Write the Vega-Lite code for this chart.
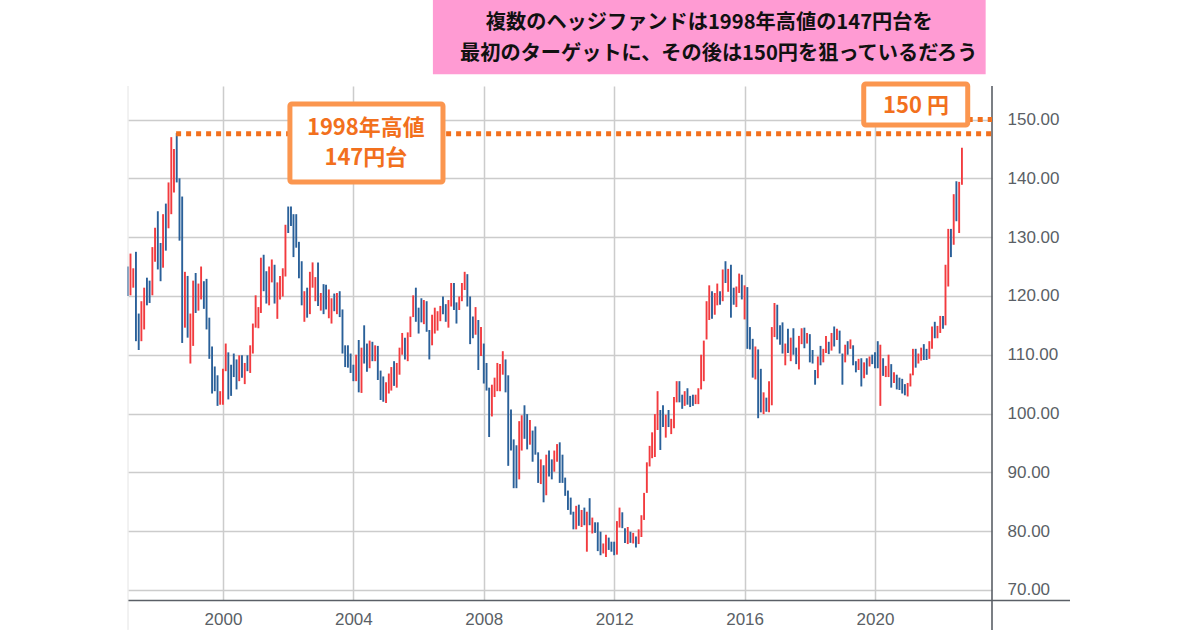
{"$schema":"https://vega.github.io/schema/vega-lite/v6.json","width":864,"height":514.5,"autosize":"none","padding":{"left":128,"top":86,"right":208,"bottom":29.5},"background":"white","view":{"stroke":null},
"config":{"axis":{"title":null,"grid":true,"gridColor":"#cccccc","gridWidth":1.5,"ticks":false,"domain":false,"labelColor":"#5a5f66","labelFont":"Liberation Sans","labelFontSize":17},"axisX":{"labelPadding":11},"axisY":{"labelPadding":15}},
"datasets":{
"bars":[
{"d":"1997-02-01","h":125,"l":120,"c":"down"},{"d":"1997-03-01","h":127.2,"l":120.1,"c":"up"},{"d":"1997-04-01","h":124.7,"l":121.4,"c":"up"},{"d":"1997-05-01","h":127.5,"l":112.3,"c":"down"},{"d":"1997-06-01","h":117,"l":110.8,"c":"down"},{"d":"1997-07-01","h":119.1,"l":112.3,"c":"up"},{"d":"1997-08-01","h":121.4,"l":114.3,"c":"up"},{"d":"1997-09-01","h":123.1,"l":118.4,"c":"down"},{"d":"1997-10-01","h":122.6,"l":118.8,"c":"down"},{"d":"1997-11-01","h":128.3,"l":120.1,"c":"up"},{"d":"1997-12-01","h":131.6,"l":125.8,"c":"up"},
{"d":"1998-01-01","h":134.4,"l":124.5,"c":"down"},{"d":"1998-02-01","h":129,"l":122.5,"c":"down"},{"d":"1998-03-01","h":133.9,"l":124.8,"c":"up"},{"d":"1998-04-01","h":135.7,"l":127.7,"c":"down"},{"d":"1998-05-01","h":139.3,"l":131.5,"c":"up"},{"d":"1998-06-01","h":147,"l":133.9,"c":"up"},{"d":"1998-07-01","h":145,"l":137.6,"c":"up"},{"d":"1998-08-01","h":147.7,"l":139.3,"c":"down"},{"d":"1998-09-01","h":140,"l":129.4,"c":"down"},{"d":"1998-10-01","h":136.9,"l":112,"c":"down"},{"d":"1998-11-01","h":124.1,"l":114.6,"c":"up"},{"d":"1998-12-01","h":123.4,"l":112.9,"c":"down"},
{"d":"1999-01-01","h":117,"l":108.5,"c":"up"},{"d":"1999-02-01","h":122.6,"l":111.5,"c":"up"},{"d":"1999-03-01","h":123.9,"l":117.1,"c":"down"},{"d":"1999-04-01","h":122.1,"l":117.5,"c":"up"},{"d":"1999-05-01","h":125,"l":119.4,"c":"up"},{"d":"1999-06-01","h":122.5,"l":117.8,"c":"down"},{"d":"1999-07-01","h":122.9,"l":114.3,"c":"down"},{"d":"1999-08-01","h":116.3,"l":109.3,"c":"down"},{"d":"1999-09-01","h":111.4,"l":103.4,"c":"down"},{"d":"1999-10-01","h":108,"l":103.8,"c":"down"},{"d":"1999-11-01","h":106.5,"l":101.3,"c":"down"},{"d":"1999-12-01","h":103.8,"l":101.5,"c":"up"},
{"d":"2000-01-01","h":107.6,"l":101.5,"c":"up"},{"d":"2000-02-01","h":111.9,"l":107.2,"c":"up"},{"d":"2000-03-01","h":110.4,"l":102.4,"c":"down"},{"d":"2000-04-01","h":108.3,"l":103,"c":"down"},{"d":"2000-05-01","h":110.2,"l":106.2,"c":"down"},{"d":"2000-06-01","h":109.2,"l":104.1,"c":"down"},{"d":"2000-07-01","h":109.9,"l":105.5,"c":"up"},{"d":"2000-08-01","h":109.9,"l":106.1,"c":"down"},{"d":"2000-09-01","h":108.6,"l":105,"c":"up"},{"d":"2000-10-01","h":109.9,"l":107.2,"c":"down"},{"d":"2000-11-01","h":111.6,"l":106.9,"c":"up"},{"d":"2000-12-01","h":115.3,"l":110.2,"c":"up"},
{"d":"2001-01-01","h":120.1,"l":114.6,"c":"up"},{"d":"2001-02-01","h":118.1,"l":114.5,"c":"up"},{"d":"2001-03-01","h":126.5,"l":117.1,"c":"up"},{"d":"2001-04-01","h":127,"l":120.8,"c":"down"},{"d":"2001-05-01","h":124.2,"l":118.7,"c":"down"},{"d":"2001-06-01","h":125,"l":118.4,"c":"up"},{"d":"2001-07-01","h":126.2,"l":122.3,"c":"up"},{"d":"2001-08-01","h":125.3,"l":118.7,"c":"down"},{"d":"2001-09-01","h":122.3,"l":116.1,"c":"up"},{"d":"2001-10-01","h":123.4,"l":119.4,"c":"up"},{"d":"2001-11-01","h":124.7,"l":119.9,"c":"up"},{"d":"2001-12-01","h":132.1,"l":123.3,"c":"up"},
{"d":"2002-01-01","h":135.2,"l":130.7,"c":"down"},{"d":"2002-02-01","h":135.2,"l":131.9,"c":"down"},{"d":"2002-03-01","h":133.9,"l":126.6,"c":"down"},{"d":"2002-04-01","h":133.9,"l":128.2,"c":"down"},{"d":"2002-05-01","h":129.2,"l":123,"c":"down"},{"d":"2002-06-01","h":125.9,"l":118.4,"c":"down"},{"d":"2002-07-01","h":120.8,"l":115.6,"c":"up"},{"d":"2002-08-01","h":121.4,"l":116.3,"c":"down"},{"d":"2002-09-01","h":124.1,"l":116.9,"c":"up"},{"d":"2002-10-01","h":125.7,"l":121.4,"c":"up"},{"d":"2002-11-01","h":123.2,"l":119.1,"c":"up"},{"d":"2002-12-01","h":125.7,"l":118.3,"c":"down"},
{"d":"2003-01-01","h":120.5,"l":117.5,"c":"up"},{"d":"2003-02-01","h":122,"l":116.9,"c":"down"},{"d":"2003-03-01","h":121.9,"l":117.7,"c":"down"},{"d":"2003-04-01","h":121.1,"l":116.2,"c":"up"},{"d":"2003-05-01","h":119.6,"l":115.3,"c":"up"},{"d":"2003-06-01","h":120.4,"l":117.4,"c":"down"},{"d":"2003-07-01","h":120.5,"l":116.9,"c":"up"},{"d":"2003-08-01","h":120.8,"l":116.4,"c":"down"},{"d":"2003-09-01","h":117.7,"l":110.2,"c":"down"},{"d":"2003-10-01","h":111.6,"l":107.9,"c":"down"},{"d":"2003-11-01","h":111.6,"l":107.8,"c":"down"},{"d":"2003-12-01","h":110.2,"l":106.9,"c":"down"},
{"d":"2004-01-01","h":108.3,"l":105.5,"c":"down"},{"d":"2004-02-01","h":110,"l":105.5,"c":"up"},{"d":"2004-03-01","h":112.5,"l":103.6,"c":"down"},{"d":"2004-04-01","h":111.2,"l":103.5,"c":"up"},{"d":"2004-05-01","h":115,"l":108.5,"c":"down"},{"d":"2004-06-01","h":111.9,"l":107.1,"c":"down"},{"d":"2004-07-01","h":112.4,"l":107.7,"c":"up"},{"d":"2004-08-01","h":112.2,"l":108.9,"c":"down"},{"d":"2004-09-01","h":111.6,"l":108.9,"c":"up"},{"d":"2004-10-01","h":111.5,"l":105.7,"c":"down"},{"d":"2004-11-01","h":107.3,"l":102.3,"c":"down"},{"d":"2004-12-01","h":106.3,"l":102,"c":"down"},
{"d":"2005-01-01","h":105.3,"l":101.8,"c":"up"},{"d":"2005-02-01","h":106.8,"l":103.4,"c":"up"},{"d":"2005-03-01","h":107.9,"l":103.9,"c":"up"},{"d":"2005-04-01","h":108.9,"l":104.7,"c":"down"},{"d":"2005-05-01","h":108.6,"l":104.4,"c":"up"},{"d":"2005-06-01","h":111.2,"l":106.6,"c":"up"},{"d":"2005-07-01","h":113.7,"l":110,"c":"up"},{"d":"2005-08-01","h":112.9,"l":109.2,"c":"down"},{"d":"2005-09-01","h":113.8,"l":108.9,"c":"up"},{"d":"2005-10-01","h":116.5,"l":113,"c":"up"},{"d":"2005-11-01","h":120.1,"l":116.4,"c":"up"},{"d":"2005-12-01","h":121.4,"l":115.6,"c":"down"},
{"d":"2006-01-01","h":118,"l":113.6,"c":"down"},{"d":"2006-02-01","h":119.6,"l":115.5,"c":"down"},{"d":"2006-03-01","h":119.3,"l":115.2,"c":"up"},{"d":"2006-04-01","h":119.1,"l":113.9,"c":"down"},{"d":"2006-05-01","h":114.2,"l":109.2,"c":"down"},{"d":"2006-06-01","h":116.8,"l":111.6,"c":"up"},{"d":"2006-07-01","h":118,"l":113.6,"c":"up"},{"d":"2006-08-01","h":117.4,"l":114.1,"c":"up"},{"d":"2006-09-01","h":118.3,"l":115.7,"c":"up"},{"d":"2006-10-01","h":119.9,"l":116.9,"c":"down"},{"d":"2006-11-01","h":118.6,"l":115.6,"c":"down"},{"d":"2006-12-01","h":119.3,"l":114.6,"c":"up"},
{"d":"2007-01-01","h":122.2,"l":118.2,"c":"up"},{"d":"2007-02-01","h":122.2,"l":117.6,"c":"down"},{"d":"2007-03-01","h":118.9,"l":115.3,"c":"down"},{"d":"2007-04-01","h":119.9,"l":117.6,"c":"up"},{"d":"2007-05-01","h":122.2,"l":119.1,"c":"up"},{"d":"2007-06-01","h":124.1,"l":121,"c":"up"},{"d":"2007-07-01","h":123.7,"l":118.2,"c":"down"},{"d":"2007-08-01","h":119.9,"l":111.8,"c":"down"},{"d":"2007-09-01","h":116.5,"l":112.8,"c":"down"},{"d":"2007-10-01","h":118.1,"l":113.4,"c":"up"},{"d":"2007-11-01","h":115.9,"l":107.4,"c":"down"},{"d":"2007-12-01","h":114.7,"l":109.8,"c":"up"},
{"d":"2008-01-01","h":111.9,"l":105.1,"c":"down"},{"d":"2008-02-01","h":108.6,"l":103.9,"c":"down"},{"d":"2008-03-01","h":104.4,"l":96,"c":"down"},{"d":"2008-04-01","h":104.9,"l":99.5,"c":"up"},{"d":"2008-05-01","h":106.1,"l":102.8,"c":"up"},{"d":"2008-06-01","h":108.6,"l":103.8,"c":"up"},{"d":"2008-07-01","h":108.4,"l":103.8,"c":"up"},{"d":"2008-08-01","h":110.6,"l":106.6,"c":"up"},{"d":"2008-09-01","h":109.2,"l":103.6,"c":"down"},{"d":"2008-10-01","h":106.5,"l":91.1,"c":"down"},{"d":"2008-11-01","h":100.7,"l":93.7,"c":"down"},{"d":"2008-12-01","h":95.6,"l":87.3,"c":"down"},
{"d":"2009-01-01","h":94.6,"l":87.3,"c":"down"},{"d":"2009-02-01","h":98.7,"l":88.8,"c":"up"},{"d":"2009-03-01","h":99.7,"l":93.7,"c":"up"},{"d":"2009-04-01","h":101.4,"l":95.7,"c":"down"},{"d":"2009-05-01","h":99.9,"l":93.9,"c":"down"},{"d":"2009-06-01","h":98.9,"l":94.7,"c":"up"},{"d":"2009-07-01","h":97.1,"l":91.8,"c":"down"},{"d":"2009-08-01","h":97.8,"l":93,"c":"down"},{"d":"2009-09-01","h":93.4,"l":88.2,"c":"down"},{"d":"2009-10-01","h":92.2,"l":88,"c":"up"},{"d":"2009-11-01","h":91.2,"l":84.9,"c":"down"},{"d":"2009-12-01","h":93,"l":86.1,"c":"up"},
{"d":"2010-01-01","h":93.7,"l":89.3,"c":"down"},{"d":"2010-02-01","h":92.2,"l":88.8,"c":"down"},{"d":"2010-03-01","h":93.7,"l":90.1,"c":"up"},{"d":"2010-04-01","h":94.8,"l":91.8,"c":"up"},{"d":"2010-05-01","h":95.1,"l":88.2,"c":"down"},{"d":"2010-06-01","h":93,"l":88.2,"c":"down"},{"d":"2010-07-01","h":89.1,"l":86,"c":"down"},{"d":"2010-08-01","h":86.9,"l":83.6,"c":"down"},{"d":"2010-09-01","h":85.7,"l":82.8,"c":"down"},{"d":"2010-10-01","h":83.3,"l":80.3,"c":"down"},{"d":"2010-11-01","h":84.3,"l":80.3,"c":"up"},{"d":"2010-12-01","h":84.5,"l":80.9,"c":"down"},
{"d":"2011-01-01","h":83.6,"l":80.7,"c":"up"},{"d":"2011-02-01","h":84,"l":81,"c":"down"},{"d":"2011-03-01","h":83.3,"l":76.5,"c":"up"},{"d":"2011-04-01","h":85.6,"l":81,"c":"down"},{"d":"2011-05-01","h":82.3,"l":79.6,"c":"up"},{"d":"2011-06-01","h":81.5,"l":79.7,"c":"down"},{"d":"2011-07-01","h":81.5,"l":76.6,"c":"down"},{"d":"2011-08-01","h":79.9,"l":75.9,"c":"down"},{"d":"2011-09-01","h":77.9,"l":76.2,"c":"up"},{"d":"2011-10-01","h":79.4,"l":75.6,"c":"up"},{"d":"2011-11-01","h":78.9,"l":76.8,"c":"down"},{"d":"2011-12-01","h":78.2,"l":76.5,"c":"down"},
{"d":"2012-01-01","h":78.2,"l":75.9,"c":"down"},{"d":"2012-02-01","h":81.7,"l":76,"c":"up"},{"d":"2012-03-01","h":84,"l":80.6,"c":"up"},{"d":"2012-04-01","h":83.2,"l":80.5,"c":"down"},{"d":"2012-05-01","h":80.5,"l":78,"c":"down"},{"d":"2012-06-01","h":80.7,"l":77.8,"c":"up"},{"d":"2012-07-01","h":79.9,"l":78,"c":"down"},{"d":"2012-08-01","h":79.7,"l":77.9,"c":"up"},{"d":"2012-09-01","h":79.1,"l":77.2,"c":"down"},{"d":"2012-10-01","h":80.3,"l":77.8,"c":"up"},{"d":"2012-11-01","h":82.7,"l":79,"c":"up"},{"d":"2012-12-01","h":86.5,"l":81.9,"c":"up"},
{"d":"2013-01-01","h":91.7,"l":86.5,"c":"up"},{"d":"2013-02-01","h":94.5,"l":91,"c":"up"},{"d":"2013-03-01","h":96.8,"l":92.4,"c":"up"},{"d":"2013-04-01","h":99.9,"l":92.6,"c":"up"},{"d":"2013-05-01","h":103.8,"l":97.2,"c":"up"},{"d":"2013-06-01","h":100.6,"l":93.8,"c":"down"},{"d":"2013-07-01","h":101.4,"l":97.7,"c":"down"},{"d":"2013-08-01","h":99.8,"l":95.9,"c":"up"},{"d":"2013-09-01","h":100.6,"l":97.7,"c":"down"},{"d":"2013-10-01","h":99.1,"l":96.5,"c":"up"},{"d":"2013-11-01","h":102.8,"l":97.5,"c":"up"},{"d":"2013-12-01","h":105.5,"l":101.9,"c":"up"},
{"d":"2014-01-01","h":105.5,"l":101.9,"c":"down"},{"d":"2014-02-01","h":103.2,"l":100.8,"c":"down"},{"d":"2014-03-01","h":103.8,"l":101.3,"c":"up"},{"d":"2014-04-01","h":104.3,"l":101.5,"c":"down"},{"d":"2014-05-01","h":103,"l":101.1,"c":"down"},{"d":"2014-06-01","h":103.2,"l":101.3,"c":"down"},{"d":"2014-07-01","h":103.2,"l":101.6,"c":"up"},{"d":"2014-08-01","h":104.3,"l":101.6,"c":"up"},{"d":"2014-09-01","h":110,"l":104.1,"c":"up"},{"d":"2014-10-01","h":112.4,"l":105.5,"c":"up"},{"d":"2014-11-01","h":119.1,"l":112.6,"c":"up"},{"d":"2014-12-01","h":121.8,"l":115.9,"c":"up"},
{"d":"2015-01-01","h":120.8,"l":116.1,"c":"down"},{"d":"2015-02-01","h":120.5,"l":116.8,"c":"up"},{"d":"2015-03-01","h":122.1,"l":118.4,"c":"up"},{"d":"2015-04-01","h":120.8,"l":118.5,"c":"down"},{"d":"2015-05-01","h":124.5,"l":119.1,"c":"up"},{"d":"2015-06-01","h":125.9,"l":122.2,"c":"down"},{"d":"2015-07-01","h":124.6,"l":120.7,"c":"up"},{"d":"2015-08-01","h":125.3,"l":116.3,"c":"down"},{"d":"2015-09-01","h":121.4,"l":118.5,"c":"down"},{"d":"2015-10-01","h":121.6,"l":118.1,"c":"up"},{"d":"2015-11-01","h":123.8,"l":120.5,"c":"up"},{"d":"2015-12-01","h":123.6,"l":119.4,"c":"down"},
{"d":"2016-01-01","h":121.8,"l":116,"c":"up"},{"d":"2016-02-01","h":121.5,"l":111,"c":"down"},{"d":"2016-03-01","h":114.7,"l":110.9,"c":"down"},{"d":"2016-04-01","h":112.7,"l":106.1,"c":"down"},{"d":"2016-05-01","h":111.4,"l":105.8,"c":"up"},{"d":"2016-06-01","h":110.9,"l":99.2,"c":"down"},{"d":"2016-07-01","h":107.6,"l":100.2,"c":"down"},{"d":"2016-08-01","h":103.6,"l":99.9,"c":"up"},{"d":"2016-09-01","h":102.7,"l":100.3,"c":"down"},{"d":"2016-10-01","h":105.5,"l":100.2,"c":"up"},{"d":"2016-11-01","h":114.7,"l":101.4,"c":"up"},{"d":"2016-12-01","h":118.8,"l":113,"c":"up"},
{"d":"2017-01-01","h":118.5,"l":112.6,"c":"down"},{"d":"2017-02-01","h":115,"l":111.7,"c":"down"},{"d":"2017-03-01","h":115.5,"l":110.2,"c":"down"},{"d":"2017-04-01","h":111.9,"l":108.2,"c":"up"},{"d":"2017-05-01","h":114.4,"l":110.3,"c":"down"},{"d":"2017-06-01","h":112.9,"l":108.9,"c":"up"},{"d":"2017-07-01","h":114.5,"l":110,"c":"down"},{"d":"2017-08-01","h":111.2,"l":108.4,"c":"down"},{"d":"2017-09-01","h":113.2,"l":107.5,"c":"up"},{"d":"2017-10-01","h":114.5,"l":111.8,"c":"up"},{"d":"2017-11-01","h":114.6,"l":111.1,"c":"down"},{"d":"2017-12-01","h":113.7,"l":111.9,"c":"up"},
{"d":"2018-01-01","h":113.5,"l":108.7,"c":"down"},{"d":"2018-02-01","h":110.8,"l":108.5,"c":"down"},{"d":"2018-03-01","h":107.4,"l":104.9,"c":"down"},{"d":"2018-04-01","h":109.7,"l":106,"c":"up"},{"d":"2018-05-01","h":111.5,"l":108.2,"c":"down"},{"d":"2018-06-01","h":111,"l":108.7,"c":"up"},{"d":"2018-07-01","h":113.2,"l":110.3,"c":"up"},{"d":"2018-08-01","h":112.2,"l":110.1,"c":"down"},{"d":"2018-09-01","h":113.7,"l":110.7,"c":"up"},{"d":"2018-10-01","h":114.8,"l":111.4,"c":"down"},{"d":"2018-11-01","h":114.4,"l":112.5,"c":"up"},{"d":"2018-12-01","h":114.1,"l":110.2,"c":"down"},
{"d":"2019-01-01","h":110.2,"l":104.9,"c":"down"},{"d":"2019-02-01","h":111.7,"l":108.7,"c":"up"},{"d":"2019-03-01","h":112.3,"l":110,"c":"down"},{"d":"2019-04-01","h":112.6,"l":111,"c":"up"},{"d":"2019-05-01","h":111.6,"l":108.2,"c":"down"},{"d":"2019-06-01","h":108.9,"l":107,"c":"down"},{"d":"2019-07-01","h":109.3,"l":107.4,"c":"up"},{"d":"2019-08-01","h":109.4,"l":104.6,"c":"down"},{"d":"2019-09-01","h":108.7,"l":106,"c":"up"},{"d":"2019-10-01","h":109.4,"l":106.6,"c":"down"},{"d":"2019-11-01","h":109.7,"l":108,"c":"up"},{"d":"2019-12-01","h":110,"l":108.4,"c":"down"},
{"d":"2020-01-01","h":110.4,"l":107.7,"c":"down"},{"d":"2020-02-01","h":112.3,"l":107.7,"c":"down"},{"d":"2020-03-01","h":111.7,"l":101.3,"c":"up"},{"d":"2020-04-01","h":109.4,"l":106.4,"c":"down"},{"d":"2020-05-01","h":108.1,"l":106.2,"c":"up"},{"d":"2020-06-01","h":110,"l":106.2,"c":"up"},{"d":"2020-07-01","h":108.4,"l":104.4,"c":"down"},{"d":"2020-08-01","h":107,"l":105.2,"c":"up"},{"d":"2020-09-01","h":106.6,"l":104.1,"c":"down"},{"d":"2020-10-01","h":106.1,"l":104,"c":"down"},{"d":"2020-11-01","h":105.9,"l":103.4,"c":"down"},{"d":"2020-12-01","h":105,"l":103.1,"c":"down"},
{"d":"2021-01-01","h":105.2,"l":102.9,"c":"up"},{"d":"2021-02-01","h":106.8,"l":104.6,"c":"up"},{"d":"2021-03-01","h":111,"l":106.5,"c":"up"},{"d":"2021-04-01","h":111,"l":107.8,"c":"down"},{"d":"2021-05-01","h":110.2,"l":108.5,"c":"up"},{"d":"2021-06-01","h":111.2,"l":109,"c":"up"},{"d":"2021-07-01","h":111.8,"l":109.1,"c":"down"},{"d":"2021-08-01","h":111,"l":109.1,"c":"down"},{"d":"2021-09-01","h":112.3,"l":109.3,"c":"up"},{"d":"2021-10-01","h":114.8,"l":111,"c":"up"},{"d":"2021-11-01","h":115.6,"l":112.8,"c":"down"},{"d":"2021-12-01","h":114.9,"l":112.8,"c":"up"},
{"d":"2022-01-01","h":116.6,"l":113.7,"c":"up"},{"d":"2022-02-01","h":116.6,"l":114.4,"c":"down"},{"d":"2022-03-01","h":125.3,"l":115,"c":"up"},{"d":"2022-04-01","h":131.4,"l":121.6,"c":"up"},{"d":"2022-05-01","h":131.4,"l":126.6,"c":"down"},{"d":"2022-06-01","h":137.3,"l":128.7,"c":"up"},{"d":"2022-07-01","h":139.5,"l":132.7,"c":"down"},{"d":"2022-08-01","h":139.4,"l":130.7,"c":"up"},{"d":"2022-09-01","h":145.2,"l":138.9,"c":"up"}
],
"axisLines":[
{"x0":"1997-02-01","x1":"2025-12-25","y0":68.2,"y1":68.2,"k":"dark"},
{"x0":"2023-08-04","x1":"2023-08-04","y0":63.2,"y1":155.7,"k":"dark"},
{"x0":"1997-02-01","x1":"1997-02-01","y0":63.2,"y1":155.7,"k":"faint"}
],
"levels":[
{"x0":"1998-07-25","x1":"2023-08-04","y":147.6},
{"x0":"2022-11-05","x1":"2023-08-04","y":150}
],
"pink":[{"x0":"2006-06-10","x1":"2023-05-25","y0":170.4,"y1":157.7}],
"boxes":[
{"x0":"2002-01-20","x1":"2006-10-01","y0":152.64,"y1":139.37},
{"x0":"2019-08-28","x1":"2022-11-05","y0":156.04,"y1":149.06}
],
"notes":[
{"x":"2004-05-20","y":148.6,"t":"1998年高値"},
{"x":"2004-05-20","y":143.45,"t":"147円台"},
{"x":"2021-04-05","y":152.3,"t":"150 円"}
],
"heads":[
{"x":"2014-12-01","y":166.47,"t":"複数のヘッジファンドは1998年高値の147円台を"},
{"x":"2015-03-18","y":161.2,"t":"最初のターゲットに、その後は150円を狙っているだろう"}
]
},
"layer":[
{"data":{"name":"bars"},"mark":{"type":"rule","strokeWidth":1.9},"encoding":{
"x":{"field":"d","type":"temporal","scale":{"type":"utc","domain":["1997-02-01","2023-08-04"]},"axis":{"values":["2000-01-01","2004-01-01","2008-01-01","2012-01-01","2016-01-01","2020-01-01"],"format":"%Y"}},
"y":{"field":"l","type":"quantitative","scale":{"domain":[68.2,155.7],"nice":false,"zero":false},"axis":{"orient":"right","values":[70,80,90,100,110,120,130,140,150],"format":".2f"}},
"y2":{"field":"h"},
"color":{"field":"c","type":"nominal","legend":null,"scale":{"domain":["up","down"],"range":["#f23b3f","#2a6099"]}}}},
{"data":{"name":"axisLines"},"mark":{"type":"rule"},"encoding":{
"x":{"field":"x0","type":"temporal"},"x2":{"field":"x1"},
"y":{"field":"y0","type":"quantitative"},"y2":{"field":"y1"},
"stroke":{"field":"k","type":"nominal","legend":null,"scale":{"domain":["dark","faint"],"range":["#5a5f66","#e4e4e4"]}},
"strokeWidth":{"field":"k","type":"nominal","legend":null,"scale":{"domain":["dark","faint"],"range":[1.6,1]}}}},
{"data":{"name":"levels"},"mark":{"type":"rule","color":"#f2701d","strokeWidth":5,"strokeDash":[5,5]},"encoding":{
"x":{"field":"x0","type":"temporal"},"x2":{"field":"x1"},
"y":{"field":"y","type":"quantitative"}}},
{"data":{"name":"pink"},"mark":{"type":"rect","color":"#ff9bd3"},"encoding":{
"x":{"field":"x0","type":"temporal"},"x2":{"field":"x1"},
"y":{"field":"y0","type":"quantitative"},"y2":{"field":"y1"}}},
{"data":{"name":"boxes"},"mark":{"type":"rect","fill":"white","stroke":"#fb964f","strokeWidth":5,"cornerRadius":2},"encoding":{
"x":{"field":"x0","type":"temporal"},"x2":{"field":"x1"},
"y":{"field":"y0","type":"quantitative"},"y2":{"field":"y1"}}},
{"data":{"name":"notes"},"mark":{"type":"text","color":"#f2701d","font":"Noto Sans CJK JP","fontWeight":"bold","fontSize":22,"align":"center","baseline":"middle"},"encoding":{
"x":{"field":"x","type":"temporal"},
"y":{"field":"y","type":"quantitative"},
"text":{"field":"t"}}},
{"data":{"name":"heads"},"mark":{"type":"text","color":"#111111","font":"Noto Sans CJK JP","fontWeight":"bold","fontSize":20.2,"align":"center","baseline":"middle"},"encoding":{
"x":{"field":"x","type":"temporal"},
"y":{"field":"y","type":"quantitative"},
"text":{"field":"t"}}}
]}
